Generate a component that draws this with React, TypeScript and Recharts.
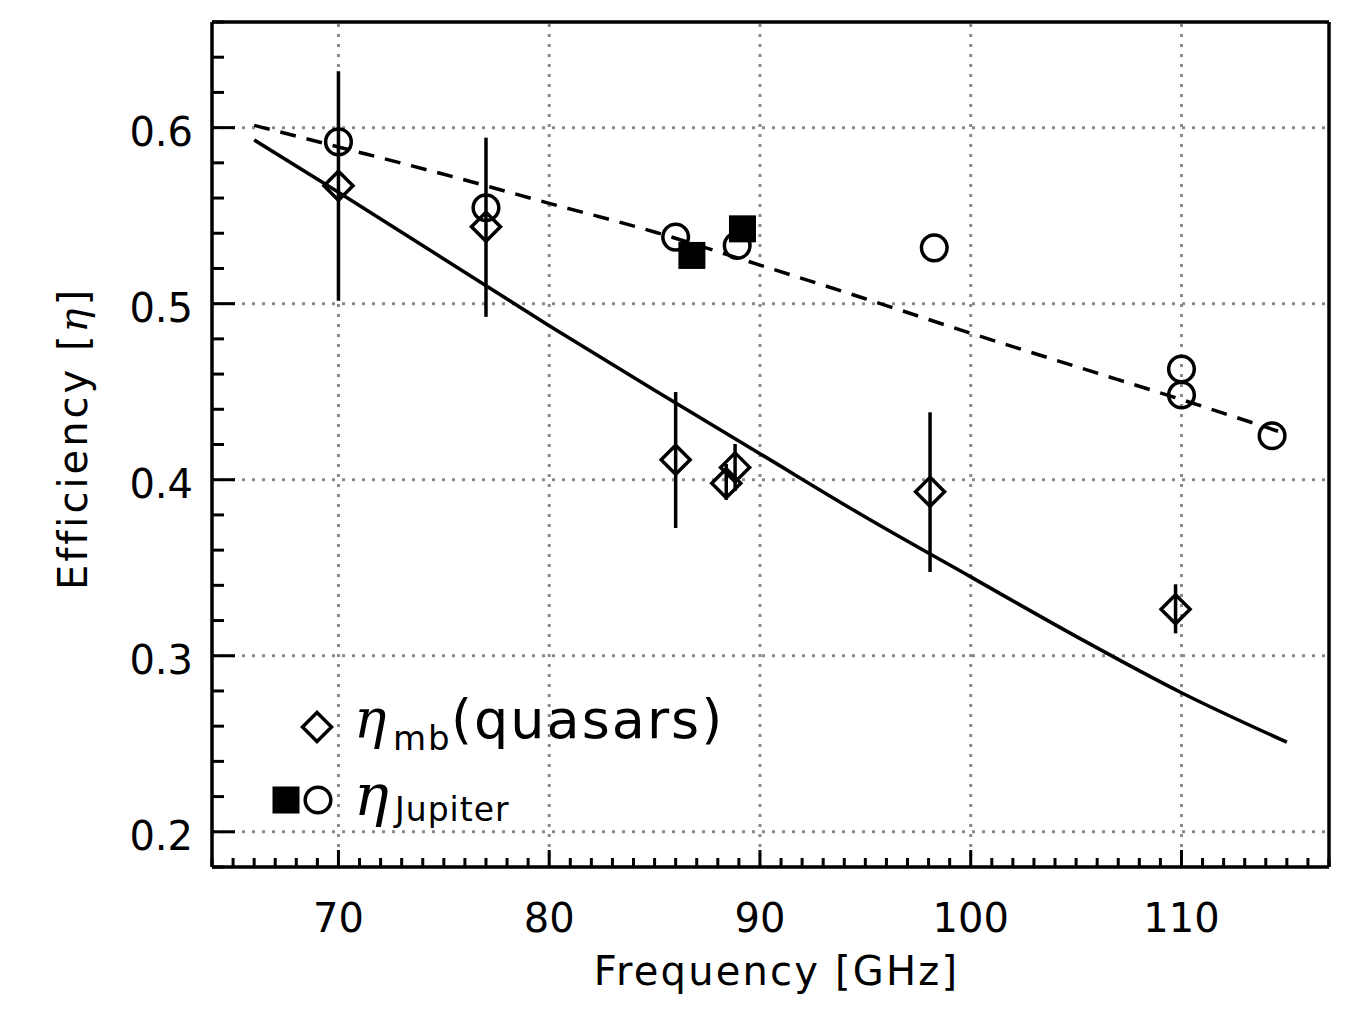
import {
  ComposedChart,
  ErrorBar,
  Label,
  Legend,
  Line,
  ReferenceLine,
  Scatter,
  XAxis,
  YAxis,
} from "recharts"

// model curves (Ruze fits)
const freqModel = [66, 70, 75, 80, 85, 90, 95, 100, 105, 110, 115]
const etaMbModel = [0.593, 0.5633, 0.5254, 0.4875, 0.4508, 0.4148, 0.3788, 0.3448, 0.311, 0.279, 0.2509]
const etaJupModel = [0.6013, 0.589, 0.5735, 0.557, 0.5407, 0.5219, 0.5028, 0.4832, 0.4643, 0.4455, 0.4259]

// eta_mb from quasars, with error ranges
const freqQso = [70.0, 77.0, 86.0, 88.4, 88.82, 98.07, 109.72]
const etaQso = [0.567, 0.5437, 0.4113, 0.398, 0.407, 0.3931, 0.3264]
const etaQsoLo = [0.5016, 0.4925, 0.3725, 0.3886, 0.3937, 0.3476, 0.3127]
const etaQsoHi = [0.632, 0.5943, 0.4498, 0.4089, 0.4203, 0.4383, 0.3406]

// eta Jupiter, open circles
const freqJup = [70.0, 77.0, 86.0, 88.92, 98.27, 110.0, 110.0, 114.3]
const etaJup = [0.5919, 0.5545, 0.5378, 0.533, 0.5317, 0.4629, 0.4481, 0.425]

// eta Jupiter, filled squares
const freqJupSq = [86.77, 89.17]
const etaJupSq = [0.5274, 0.5425]

const xMajor = [70, 80, 90, 100, 110]
const yMajor = [0.2, 0.3, 0.4, 0.5, 0.6]
const xTicks = Array.from({ length: 54 }, (_, i) => 64 + i)
const yTicks = Array.from({ length: 25 }, (_, i) => Math.round((0.18 + i * 0.02) * 100) / 100)

const FONT = "DejaVu Sans, sans-serif"
const GREEK = "DejaVu Serif, serif"
const SW = 3.5

const mbLine = freqModel.map((x, i) => ({ x, y: etaMbModel[i] }))
const jupLine = freqModel.map((x, i) => ({ x, y: etaJupModel[i] }))
const qsoData = freqQso.map((x, i) => ({
  x,
  y: etaQso[i],
  err: [etaQso[i] - etaQsoLo[i], etaQsoHi[i] - etaQso[i]],
}))
const jupData = freqJup.map((x, i) => ({ x, y: etaJup[i] }))
const jupSqData = freqJupSq.map((x, i) => ({ x, y: etaJupSq[i] }))

const isMajorY = (v: number) => Math.round(v * 100) % 10 === 0

function XTick({ x, y, payload, side }: any) {
  const major = xMajor.includes(payload.value)
  const len = major ? 17 : 9
  const dir = side === "bottom" ? -1 : 1
  return (
    <g>
      <line x1={x} x2={x} y1={y} y2={y + dir * len} stroke="#000" strokeWidth={3} />
      {major && side === "bottom" && (
        <text x={x} y={y + 65} textAnchor="middle" fontFamily={FONT} fontSize={40} fill="#000">
          {payload.value}
        </text>
      )}
    </g>
  )
}

function YTick({ x, y, payload, side }: any) {
  const major = isMajorY(payload.value)
  const len = major ? 23 : 12
  const dir = side === "left" ? 1 : -1
  return (
    <g>
      <line x1={x} x2={x + dir * len} y1={y} y2={y} stroke="#000" strokeWidth={3} />
      {major && side === "left" && (
        <text x={x - 19} y={y + 18} textAnchor="end" fontFamily={FONT} fontSize={40} fill="#000">
          {payload.value.toFixed(1)}
        </text>
      )}
    </g>
  )
}

function XTitle({ viewBox }: any) {
  return (
    <text
      x={viewBox.x + viewBox.width / 2 + 6}
      y={viewBox.y + 118}
      textAnchor="middle"
      fontFamily={FONT}
      fontSize={40}
      style={{ letterSpacing: 2.2 }}
      fill="#000"
    >
      Frequency [GHz]
    </text>
  )
}

function YTitle({ viewBox }: any) {
  const cx = viewBox.x + viewBox.width - 125
  const cy = viewBox.y + viewBox.height / 2 - 6
  return (
    <text
      x={cx}
      y={cy}
      transform={`rotate(-90 ${cx} ${cy})`}
      textAnchor="middle"
      fontFamily={FONT}
      fontSize={40}
      style={{ letterSpacing: 3 }}
      fill="#000"
    >
      Efficiency [<tspan fontFamily={GREEK} fontStyle="italic">η</tspan>]
    </text>
  )
}

const Diamond = ({ cx, cy }: any) => (
  <polygon
    points={`${cx},${cy - 14.5} ${cx + 14.5},${cy} ${cx},${cy + 14.5} ${cx - 14.5},${cy}`}
    fill="none"
    stroke="#000"
    strokeWidth={SW}
  />
)
const OpenCircle = ({ cx, cy }: any) => (
  <circle cx={cx} cy={cy} r={12.8} fill="none" stroke="#000" strokeWidth={SW} />
)
const FilledSquare = ({ cx, cy }: any) => (
  <rect x={cx - 13.5} y={cy - 13.5} width={27} height={27} fill="#000" />
)

function LegendBox() {
  return (
    <svg width={480} height={170} style={{ overflow: "visible", display: "block" }}>
      <Diamond cx={57} cy={47} />
      <text x={94} y={58} fontFamily={FONT} fontSize={54} fill="#000" style={{ letterSpacing: 2 }}>
        <tspan fontFamily={GREEK} fontStyle="italic">η</tspan>
        <tspan x={133} dy={12} fontSize={34}>mb</tspan>
        <tspan x={191} dy={-12}>(quasars)</tspan>
      </text>
      <FilledSquare cx={26} cy={120} />
      <OpenCircle cx={58} cy={120} />
      <text x={94} y={135} fontFamily={FONT} fontSize={58} fill="#000">
        <tspan fontFamily={GREEK} fontStyle="italic">η</tspan>
        <tspan x={135} dy={6} fontSize={33} style={{ letterSpacing: 1 }}>Jupiter</tspan>
      </text>
    </svg>
  )
}

const axisLine = { stroke: "#000", strokeWidth: 3.5 }
const grid = { stroke: "#8a8a8a", strokeWidth: 3, strokeDasharray: "3 7" }

export default function App() {
  return (
    <div style={{ position: "absolute", left: 0, top: 0, background: "#fff" }}>
      <ComposedChart
        width={1365}
        height={1019}
        margin={{ top: 20, right: 34, bottom: 150, left: 210 }}
      >
        <XAxis
          xAxisId="b"
          type="number"
          dataKey="x"
          domain={[64, 117]}
          ticks={xTicks}
          interval={0}
          orientation="bottom"
          height={2}
          tickSize={0}
          tickMargin={0}
          tickLine={false}
          axisLine={axisLine}
          tick={(p: any) => <XTick {...p} side="bottom" />}
        >
          <Label content={XTitle} />
        </XAxis>
        <XAxis
          xAxisId="t"
          type="number"
          dataKey="x"
          domain={[64, 117]}
          ticks={xTicks}
          interval={0}
          orientation="top"
          height={2}
          tickSize={0}
          tickMargin={0}
          tickLine={false}
          axisLine={axisLine}
          tick={(p: any) => <XTick {...p} side="top" />}
        />
        <YAxis
          yAxisId="l"
          type="number"
          dataKey="y"
          domain={[0.18, 0.66]}
          ticks={yTicks}
          interval={0}
          orientation="left"
          width={2}
          tickSize={0}
          tickMargin={0}
          tickLine={false}
          axisLine={axisLine}
          tick={(p: any) => <YTick {...p} side="left" />}
        >
          <Label content={YTitle} />
        </YAxis>
        <YAxis
          yAxisId="r"
          type="number"
          dataKey="y"
          domain={[0.18, 0.66]}
          ticks={yTicks}
          interval={0}
          orientation="right"
          width={2}
          tickSize={0}
          tickMargin={0}
          tickLine={false}
          axisLine={axisLine}
          tick={(p: any) => <YTick {...p} side="right" />}
        />

        {xMajor.map((v) => (
          <ReferenceLine key={`gx${v}`} x={v} xAxisId="b" yAxisId="l" {...grid} />
        ))}
        {yMajor.map((v) => (
          <ReferenceLine key={`gy${v}`} y={v} xAxisId="b" yAxisId="l" {...grid} />
        ))}

        <Line
          data={mbLine}
          dataKey="y"
          xAxisId="b"
          yAxisId="l"
          type="monotone"
          stroke="#000"
          strokeWidth={SW}
          dot={false}
          isAnimationActive={false}
        />
        <Line
          data={jupLine}
          dataKey="y"
          xAxisId="b"
          yAxisId="l"
          type="monotone"
          stroke="#000"
          strokeWidth={SW}
          strokeDasharray="16 11"
          dot={false}
          isAnimationActive={false}
        />
        <Scatter
          data={qsoData}
          dataKey="y"
          xAxisId="b"
          yAxisId="l"
          shape={Diamond}
          isAnimationActive={false}
        >
          <ErrorBar
            dataKey="err"
            direction="y"
            width={0}
            stroke="#000"
            strokeWidth={SW}
            isAnimationActive={false}
          />
        </Scatter>
        <Scatter
          data={jupData}
          dataKey="y"
          xAxisId="b"
          yAxisId="l"
          shape={OpenCircle}
          isAnimationActive={false}
        />
        <Scatter
          data={jupSqData}
          dataKey="y"
          xAxisId="b"
          yAxisId="l"
          shape={FilledSquare}
          isAnimationActive={false}
        />

        <Legend
          layout="horizontal"
          verticalAlign="middle"
          align="center"
          content={() => <LegendBox />}
          wrapperStyle={{ position: "absolute", left: 260, top: 680, width: 480, height: 170 }}
        />
      </ComposedChart>
    </div>
  )
}
